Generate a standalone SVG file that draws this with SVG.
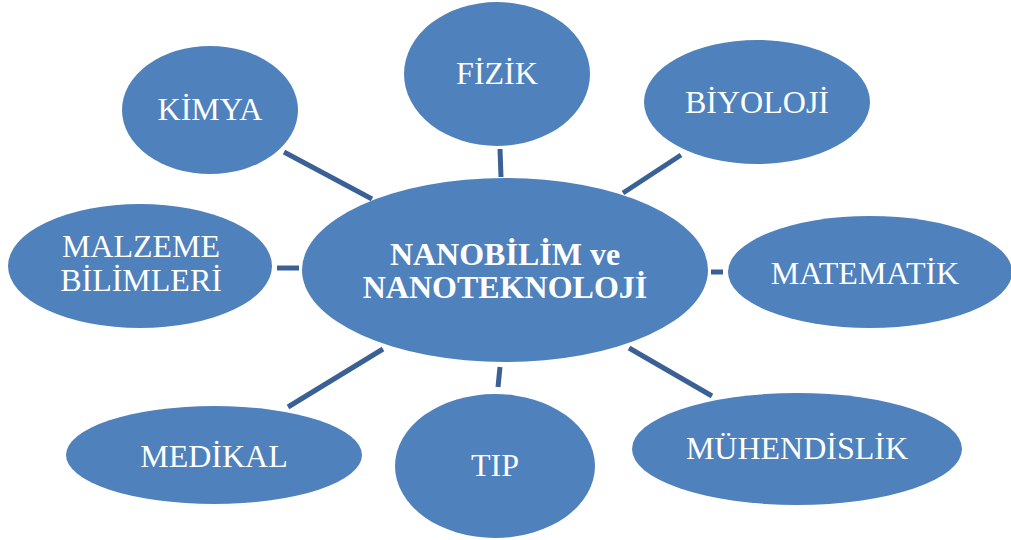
<svg xmlns="http://www.w3.org/2000/svg" width="1011" height="540" viewBox="0 0 1011 540">
  <style>
    .node { fill: #4F81BD; }
    .link { stroke: #3A6096; stroke-width: 5; fill: none; }
    .lbl { font-family: "Liberation Serif", "Times New Roman", serif; font-size: 32px; fill: #FFFFFF; text-anchor: middle; }
    .hub { font-family: "Liberation Serif", "Times New Roman", serif; font-size: 32px; font-weight: bold; fill: #FFFFFF; text-anchor: middle; }
  </style>
  <rect width="1011" height="540" fill="#FFFFFF"/>

  <!-- spokes from the hub to each field -->
  <g id="connectors">
    <line class="link" x1="284" y1="152" x2="372" y2="199"/>
    <line class="link" x1="500" y1="149" x2="501" y2="177"/>
    <line class="link" x1="681" y1="155" x2="623" y2="193"/>
    <line class="link" x1="277" y1="268" x2="299" y2="268"/>
    <line class="link" x1="711" y1="272" x2="723" y2="272"/>
    <line class="link" x1="383" y1="349" x2="288" y2="407"/>
    <line class="link" x1="500" y1="367" x2="498" y2="387"/>
    <line class="link" x1="629" y1="348" x2="712" y2="396"/>
  </g>

  <g id="hub">
    <ellipse class="node" cx="505" cy="270" rx="203" ry="92"/>
    <text class="hub" x="505" y="265">NANOBİLİM ve</text>
    <text class="hub" x="505" y="298">NANOTEKNOLOJİ</text>
  </g>

  <g id="fizik">
    <ellipse class="node" cx="497" cy="74" rx="93" ry="72"/>
    <text class="lbl" x="497" y="84">FİZİK</text>
  </g>

  <g id="kimya">
    <ellipse class="node" cx="210" cy="110" rx="88" ry="64"/>
    <text class="lbl" x="210" y="120">KİMYA</text>
  </g>

  <g id="biyoloji">
    <ellipse class="node" cx="757" cy="102" rx="113" ry="62"/>
    <text class="lbl" x="757" y="113">BİYOLOJİ</text>
  </g>

  <g id="malzeme">
    <ellipse class="node" cx="140" cy="266" rx="132" ry="62"/>
    <text class="lbl" x="141" y="257">MALZEME</text>
    <text class="lbl" x="141" y="291">BİLİMLERİ</text>
  </g>

  <g id="matematik">
    <ellipse class="node" cx="870" cy="272" rx="142" ry="56"/>
    <text class="lbl" x="865" y="284">MATEMATİK</text>
  </g>

  <g id="medikal">
    <ellipse class="node" cx="214" cy="455" rx="148" ry="49"/>
    <text class="lbl" x="214" y="467">MEDİKAL</text>
  </g>

  <g id="tip">
    <ellipse class="node" cx="495" cy="466" rx="100" ry="72"/>
    <text class="lbl" x="495" y="476">TIP</text>
  </g>

  <g id="muhendislik">
    <ellipse class="node" cx="797" cy="449" rx="165" ry="56"/>
    <text class="lbl" x="797" y="459">MÜHENDİSLİK</text>
  </g>
</svg>
